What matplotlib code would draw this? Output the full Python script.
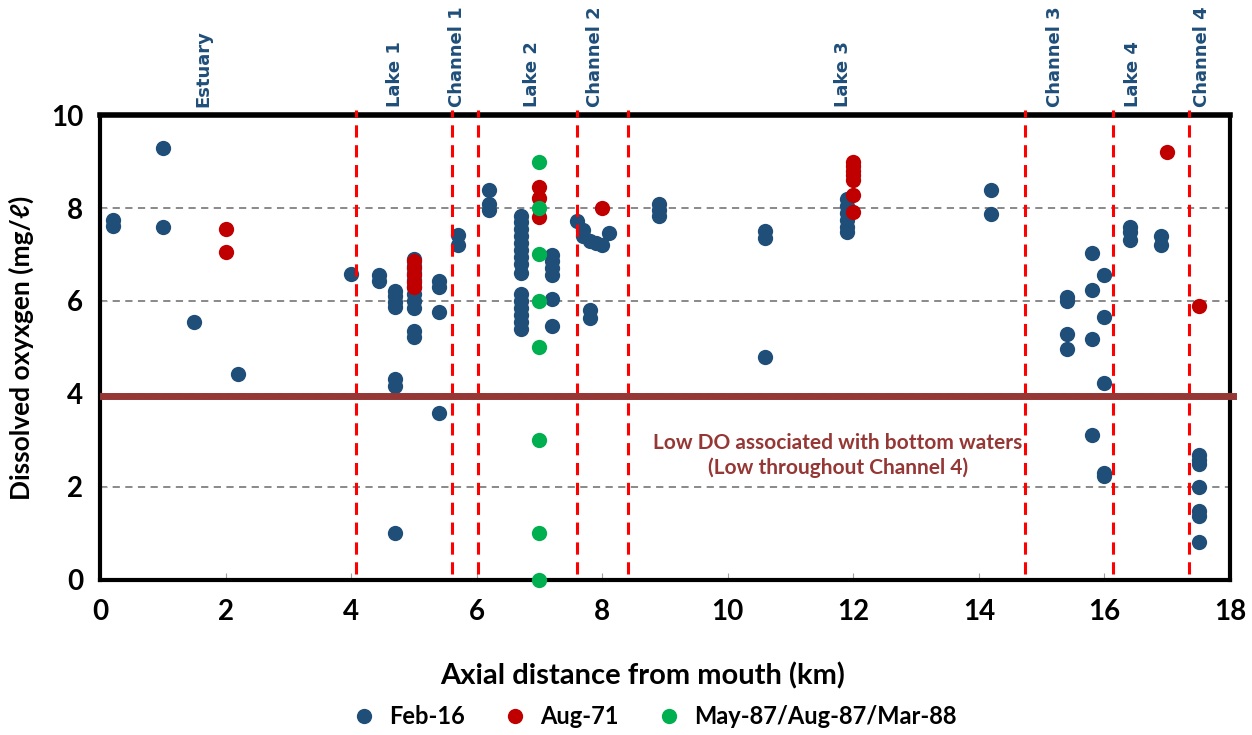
import numpy as np
import matplotlib
matplotlib.use("Agg")
from matplotlib import pyplot as plt

# Feb-16 survey (x = km from mouth, y = DO mg/l)
feb16_x = [0.2, 0.2,
           1.0, 1.0,
           1.5,
           2.2,
           4.0,
           4.45, 4.45,
           4.7, 4.7, 4.7, 4.7, 4.7, 4.7, 4.7,
           5.0, 5.0, 5.0, 5.0, 5.0, 5.0, 5.0, 5.0, 5.0, 5.0,
           5.4, 5.4, 5.4, 5.4,
           5.7, 5.7,
           6.2, 6.2, 6.2,
           6.7, 6.7, 6.7, 6.7, 6.7, 6.7, 6.7, 6.7, 6.7, 6.7, 6.7, 6.7, 6.7, 6.7, 6.7,
           7.2, 7.2, 7.2, 7.2, 7.2, 7.2,
           7.6, 7.7, 7.7, 7.8, 7.8, 7.8, 7.9, 8.0, 8.1,
           8.9, 8.9, 8.9,
           10.6, 10.6, 10.6,
           11.9, 11.9, 11.9, 11.9, 11.9, 11.9,
           14.2, 14.2,
           15.4, 15.4, 15.4, 15.4,
           15.8, 15.8, 15.8, 15.8,
           16.0, 16.0, 16.0, 16.0, 16.0,
           16.4, 16.4, 16.4,
           16.9, 16.9,
           17.5, 17.5, 17.5, 17.5, 17.5, 17.5, 17.5]
feb16_y = [7.75, 7.62,
           9.3, 7.6,
           5.55,
           4.43,
           6.58,
           6.55, 6.42,
           6.22, 6.1, 5.98, 5.88, 4.33, 4.18, 1.0,
           6.9, 6.75, 6.6, 6.45, 6.3, 6.15, 6.0, 5.85, 5.35, 5.22,
           6.42, 6.3, 5.77, 3.58,
           7.42, 7.2,
           8.39, 8.08, 7.95,
           7.83, 7.7, 7.55, 7.4, 7.25, 7.1, 6.95, 6.8, 6.6, 6.15, 6.0, 5.85, 5.7, 5.55, 5.4,
           6.98, 6.85, 6.7, 6.55, 6.05, 5.46,
           7.72, 7.53, 7.4, 7.28, 5.8, 5.63, 7.25, 7.2, 7.47,
           8.08, 7.95, 7.83,
           7.5, 7.35, 4.79,
           8.2, 8.05, 7.9, 7.75, 7.6, 7.48,
           8.38, 7.88,
           6.09, 6.0, 5.28, 4.97,
           7.03, 6.24, 5.18, 3.12,
           6.56, 5.65, 4.23, 2.3, 2.24,
           7.6, 7.48, 7.31,
           7.4, 7.2,
           2.68, 2.58, 2.5, 2.0, 1.48, 1.38, 0.82]

# Aug-71 survey
aug71_x = [2.0, 2.0, 5.0, 5.0, 5.0, 5.0, 5.0, 7.0, 7.0, 7.0, 8.0,
           12.0, 12.0, 12.0, 12.0, 12.0, 12.0, 12.0, 17.0, 17.5]
aug71_y = [7.55, 7.05, 6.85, 6.7, 6.55, 6.4, 6.3, 8.46, 8.22, 7.81, 8.01,
           9.0, 8.9, 8.8, 8.7, 8.6, 8.28, 7.91, 9.2, 5.9]

# May-87 / Aug-87 / Mar-88
may87_x = [7.0, 7.0, 7.0, 7.0, 7.0, 7.0, 7.0, 7.0]
may87_y = [9.0, 8.0, 7.0, 6.0, 5.0, 3.0, 1.0, 0.0]

# reach boundaries and names
boundaries = [4.08, 5.6, 6.02, 7.6, 8.41, 14.73, 16.14, 17.35]
region_names = ["Estuary", "Lake 1", "Channel 1", "Lake 2", "Channel 2",
                "Lake 3", "Channel 3", "Lake 4", "Channel 4"]
region_x = [1.64, 4.7, 5.69, 6.88, 7.88, 11.83, 15.22, 16.45, 17.56]

do_threshold = 3.95

blue = "#1F4E79"
red = "#C00000"
green = "#00B050"
darkred = "#953735"

plt.rcParams["font.family"] = ["Lato", "DejaVu Sans"]

fig = plt.figure(figsize=(12.52, 7.35), dpi=100)
ax = fig.add_axes([0.0799, 0.211, 0.9025, 0.6325])

ax.set_xlim(0, 18)
ax.set_ylim(0, 10)
ax.set_xticks(np.arange(0, 19, 2))
ax.set_yticks(np.arange(0, 11, 2))
for gy in [2, 4, 6, 8]:
    ax.axhline(gy, color="#808080", lw=1.3, ls=(0, (4, 3)), zorder=1)

ms = 11
ax.plot(feb16_x, feb16_y, "o", color=blue, ms=ms, mew=0, zorder=3, label="Feb-16")
ax.plot(aug71_x, aug71_y, "o", color=red, ms=ms, mew=0, zorder=3.1, label="Aug-71")
ax.plot(may87_x, may87_y, "o", color=green, ms=ms, mew=0, zorder=3.2,
        label="May-87/Aug-87/Mar-88", clip_on=False)

for bx in boundaries:
    ax.plot([bx, bx], [0.12, 10.1], color="#FF0000", lw=2.2, ls=(0, (4, 2.5)),
            zorder=4, clip_on=False)

ax.plot([0.05, 18.05], [do_threshold, do_threshold], color=darkred, lw=5,
        zorder=5, clip_on=False)

for name, rx in zip(region_names, region_x):
    ax.text(rx, 10.18, name, rotation=90, ha="center", va="bottom",
            color=blue, fontsize=13, fontweight="bold", family="DejaVu Sans")

ax.text(11.75, 2.67, "Low DO associated with bottom waters\n(Low throughout Channel 4)",
        ha="center", va="center", color=darkred, fontsize=15, fontweight="bold",
        linespacing=1.25, zorder=6)

for side in ["top", "bottom", "left", "right"]:
    ax.spines[side].set_linewidth(3)
    ax.spines[side].set_color("black")
ax.spines["top"].set_linewidth(4)

ax.tick_params(direction="in", length=5, color="#A0A0A0", labelsize=20)
ax.tick_params(axis="x", pad=14)
ax.tick_params(axis="y", pad=12)
for lab in ax.get_xticklabels() + ax.get_yticklabels():
    lab.set_fontweight("bold")

ax.set_xlabel("Axial distance from mouth (km)", fontsize=21, fontweight="bold")
ax.xaxis.set_label_coords(0.48, -0.178)
ax.set_ylabel("Dissolved oxyxgen (mg/ℓ)", fontsize=19, fontweight="bold", labelpad=12)

fig.legend(loc="lower center", bbox_to_anchor=(0.518, -0.02), ncol=3, frameon=False,
           prop={"size": 17, "weight": "bold"}, handletextpad=0.05, columnspacing=1.15,
           markerscale=1.0)

fig.savefig("out.png", dpi=100)
